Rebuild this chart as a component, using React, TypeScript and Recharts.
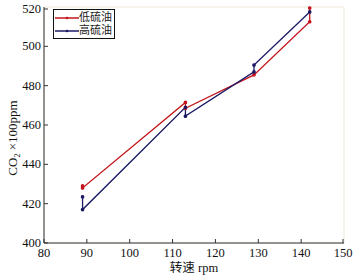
import { LineChart, Line, XAxis, YAxis, CartesianGrid } from 'recharts';

const xTicks = [80, 90, 100, 110, 120, 130, 140, 150];
const yTicks = [400, 420, 440, 460, 480, 500, 520];

// 低硫油
const lowRpm = [89, 89, 113, 113, 129, 142, 142];
const lowCo2 = [429, 428, 471.5, 468.5, 485.5, 512.5, 519.5];
// 高硫油
const highRpm = [89, 89, 113, 113, 129, 129, 142];
const highCo2 = [423.5, 417, 469, 464.5, 487, 490.5, 517.5];

const lowData = lowRpm.map((x, i) => ({ rpm: x, co2: lowCo2[i] }));
const highData = highRpm.map((x, i) => ({ rpm: x, co2: highCo2[i] }));

const RED = '#c3161c';
const BLUE = '#1b1a66';
const FONT = '"Liberation Serif", "Times New Roman", "Noto Sans CJK SC", serif';
const FRAME = '#333';

const BottomTick = (p: any) => (
  <g>
    <line x1={p.x} y1={p.y} x2={p.x} y2={p.y - 4} stroke={FRAME} />
    <text x={p.x} y={p.y + 14} textAnchor="middle" fontSize={12.5} fontFamily={FONT} fill="#111">
      {p.payload.value}
    </text>
  </g>
);

const TopTick = (p: any) => <line x1={p.x} y1={p.y} x2={p.x} y2={p.y + 4} stroke={FRAME} />;

const LeftTick = (p: any) => (
  <g>
    <line x1={p.x} y1={p.y} x2={p.x + 4} y2={p.y} stroke={FRAME} />
    <text x={p.x - 3} y={p.y + 4} textAnchor="end" fontSize={12.5} fontFamily={FONT} fill="#111">
      {p.payload.value}
    </text>
  </g>
);

const RightTick = (p: any) => <line x1={p.x} y1={p.y} x2={p.x - 4} y2={p.y} stroke={FRAME} />;

const YLabel = () => (
  <text transform="rotate(-90, 17, 138)" x={17} y={138} textAnchor="middle" fontSize={13} fontFamily={FONT} fill="#111">
    CO<tspan fontSize={8} dy={3}>2</tspan>
    <tspan dy={-3}> ×100ppm</tspan>
  </text>
);

const legendItems = [
  { name: '低硫油', color: RED },
  { name: '高硫油', color: BLUE },
];

const LegendBox = () => (
  <div
    style={{
      position: 'absolute',
      left: 53,
      top: 9,
      border: '1px solid #111',
      background: '#fff',
      padding: '1px 2px 1px 1px',
      fontFamily: FONT,
      fontSize: 11,
      lineHeight: '13px',
      whiteSpace: 'nowrap',
    }}
  >
    {legendItems.map((s) => (
      <div key={s.name} style={{ display: 'flex', alignItems: 'center' }}>
        <svg width={24} height={10}>
          <line x1={0} y1={5} x2={24} y2={5} stroke={s.color} strokeWidth={1.5} />
          <circle cx={12} cy={5} r={1.3} fill={s.color} />
        </svg>
        <span style={{ color: '#222' }}>{s.name}</span>
      </div>
    ))}
  </div>
);

export default function App() {
  return (
    <div style={{ position: 'absolute', left: 0, top: 0, width: 355, height: 275, background: '#fff' }}>
      <LineChart width={355} height={275} margin={{ top: 7, right: 11, bottom: 0, left: 0 }}>
        <CartesianGrid stroke="#ece7da" vertical horizontal />
        <XAxis
          xAxisId="b"
          type="number"
          dataKey="rpm"
          domain={[80, 150]}
          ticks={xTicks}
          height={32}
          tickSize={0}
          tickMargin={0}
          tickLine={false}
          axisLine={{ stroke: FRAME }}
          tick={<BottomTick />}
          label={{ value: '转速 rpm', position: 'insideBottom', offset: 3, fontSize: 12.5, fontFamily: FONT, fill: '#111' }}
        />
        <XAxis
          xAxisId="t"
          orientation="top"
          type="number"
          dataKey="rpm"
          domain={[80, 150]}
          ticks={xTicks}
          height={0}
          tickSize={0}
          tickMargin={0}
          tickLine={false}
          axisLine={{ stroke: FRAME }}
          tick={<TopTick />}
        />
        <YAxis
          yAxisId="l"
          type="number"
          domain={[400, 520]}
          ticks={yTicks}
          width={44}
          tickSize={0}
          tickMargin={0}
          tickLine={false}
          axisLine={{ stroke: FRAME }}
          tick={<LeftTick />}
          label={<YLabel />}
        />
        <YAxis
          yAxisId="r"
          orientation="right"
          type="number"
          domain={[400, 520]}
          ticks={yTicks}
          width={0}
          tickSize={0}
          tickMargin={0}
          tickLine={false}
          axisLine={{ stroke: FRAME }}
          tick={<RightTick />}
        />
        <Line
          xAxisId="b"
          yAxisId="l"
          data={lowData}
          dataKey="co2"
          stroke={RED}
          strokeWidth={1.3}
          dot={{ r: 1.2, fill: RED, stroke: RED }}
          isAnimationActive={false}
        />
        <Line
          xAxisId="b"
          yAxisId="l"
          data={highData}
          dataKey="co2"
          stroke={BLUE}
          strokeWidth={1.3}
          dot={{ r: 1.2, fill: BLUE, stroke: BLUE }}
          isAnimationActive={false}
        />
      </LineChart>
      <LegendBox />
    </div>
  );
}
